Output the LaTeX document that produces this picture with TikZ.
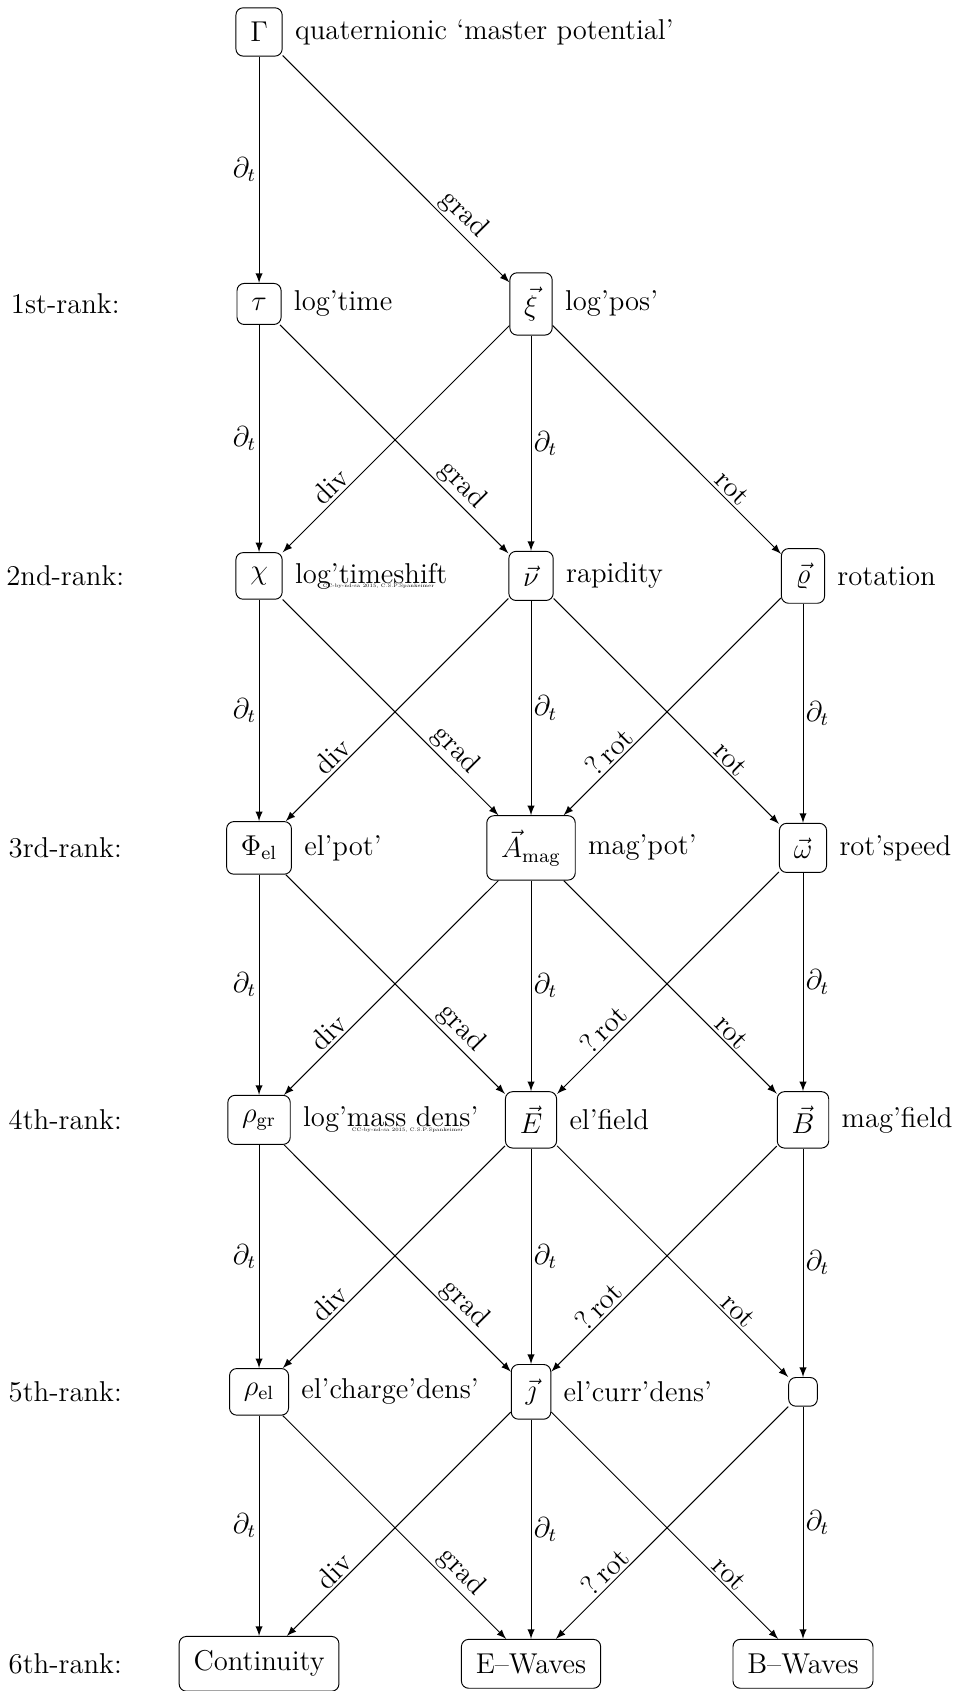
\documentclass[tikz,border=0pt,12pt]{standalone}
\usepackage{amsmath}
\usepackage{tikz}
\usetikzlibrary{positioning,arrows}

\begin{document}
\begin{tikzpicture}[>=latex,node distance=4cm,on grid,
  qty/.style={draw,rounded corners=3pt,inner sep=6pt},
  desc/.style={on grid=false,inner sep=4pt},
  cc/.style={inner sep=0pt,font=\fontsize{2.1}{2.4}\selectfont},
  diag/.style={sloped,above,near end}]
\useasboundingbox (-3.81,0.47) rectangle (10.31,-24.40);
\node[qty] (G) {$\Gamma$};
\node[desc] (G-d) [right=1pt of G] {quaternionic `master potential'};
% 1st rank
\node[qty] (tau) [below=of G] {$\tau$};
\node[qty] (xi) [right=of tau] {$\vec{\xi}$};
\node (rank1) [left=2.85cm of tau] {1st-rank:};
\node[desc] (tau-d) [right=1pt of tau] {log'time};
\node[desc] (xi-d) [right=1pt of xi] {log'pos'};
% 2nd rank
\node[qty] (chi) [below=of tau] {$\chi$};
\node[qty] (nu) [right=of chi] {$\vec{\nu}$};
\node[qty] (vrho) [right=of nu] {$\vec{\varrho}$};
\node (rank2) [left=2.85cm of chi] {2nd-rank:};
\node[desc] (chi-d) [right=1pt of chi] {log'timeshift};
\node[desc] (nu-d) [right=1pt of nu] {rapidity};
\node[desc] (vrho-d) [right=1pt of vrho] {rotation};
\node[cc,anchor=north] (cc1) at ([xshift=3pt,yshift=-0.3pt]chi-d.base) {CC-by-nd-sa 2015, C.S.P.Spankeimer};
% 3rd rank
\node[qty] (phi) [below=of chi] {$\Phi_{\mathrm{el}}$};
\node[qty] (A) [right=of phi] {$\vec{A}_{\mathrm{mag}}$};
\node[qty] (omega) [right=of A] {$\vec{\omega}$};
\node (rank3) [left=2.85cm of phi] {3rd-rank:};
\node[desc] (phi-d) [right=1pt of phi] {el'pot'};
\node[desc] (A-d) [right=1pt of A] {mag'pot'};
\node[desc] (omega-d) [right=1pt of omega] {rot'speed};
% 4th rank
\node[qty] (rhogr) [below=of phi] {$\rho_{\mathrm{gr}}$};
\node[qty] (E) [right=of rhogr] {$\vec{E}$};
\node[qty] (B) [right=of E] {$\vec{B}$};
\node (rank4) [left=2.85cm of rhogr] {4th-rank:};
\node[desc] (rhogr-d) [right=1pt of rhogr] {log'mass dens'};
\node[desc] (E-d) [right=1pt of E] {el'field};
\node[desc] (B-d) [right=1pt of B] {mag'field};
\node[cc,anchor=north] (cc2) at ([xshift=7pt,yshift=-0.3pt]rhogr-d.base) {CC-by-nd-sa 2015, C.S.P.Spankeimer};
% 5th rank
\node[qty] (rhoel) [below=of rhogr] {$\rho_{\mathrm{el}}$};
\node[qty] (J) [right=of rhoel] {$\vec{\jmath}$};
\node[qty] (X) [right=of J] {};
\node (rank5) [left=2.85cm of rhoel] {5th-rank:};
\node[desc] (rhoel-d) [right=1pt of rhoel] {el'charge'dens'};
\node[desc] (J-d) [right=1pt of J] {el'curr'dens'};
% 6th rank
\node[qty] (cont) [below=of rhoel] {Continuity};
\node[qty] (ewave) [right=of cont] {E--Waves};
\node[qty] (bwave) [right=of ewave] {B--Waves};
\node (rank6) [left=2.85cm of cont] {6th-rank:};

\path[->,every node/.append style={inner sep=1pt}]
(G) edge node[left] {$\partial_t$} (tau)
(G) edge node[diag] {grad} (xi)
(tau) edge node[left] {$\partial_t$} (chi)
(tau) edge node[diag] {grad} (nu)
(xi) edge node[diag] {div} (chi)
(xi) edge node[right] {$\partial_t$} (nu)
(xi) edge node[diag] {rot} (vrho)
(chi) edge node[left] {$\partial_t$} (phi)
(chi) edge node[diag] {grad} (A)
(nu) edge node[diag] {div} (phi)
(nu) edge node[right] {$\partial_t$} (A)
(nu) edge node[diag] {rot} (omega)
(vrho) edge node[diag] {?\,rot} (A)
(vrho) edge node[right] {$\partial_t$} (omega)
(phi) edge node[left] {$\partial_t$} (rhogr)
(phi) edge node[diag] {grad} (E)
(A) edge node[diag] {div} (rhogr)
(A) edge node[right] {$\partial_t$} (E)
(A) edge node[diag] {rot} (B)
(omega) edge node[diag] {?\,rot} (E)
(omega) edge node[right] {$\partial_t$} (B)
(rhogr) edge node[left] {$\partial_t$} (rhoel)
(rhogr) edge node[diag] {grad} (J)
(E) edge node[diag] {div} (rhoel)
(E) edge node[right] {$\partial_t$} (J)
(E) edge node[diag] {rot} (X)
(B) edge node[diag] {?\,rot} (J)
(B) edge node[right] {$\partial_t$} (X)
(rhoel) edge node[left] {$\partial_t$} (cont)
(rhoel) edge node[diag] {grad} (ewave)
(J) edge node[diag] {div} (cont)
(J) edge node[right] {$\partial_t$} (ewave)
(J) edge node[diag] {rot} (bwave)
(X) edge node[diag] {?\,rot} (ewave)
(X) edge node[right] {$\partial_t$} (bwave);
\end{tikzpicture}
\end{document}
